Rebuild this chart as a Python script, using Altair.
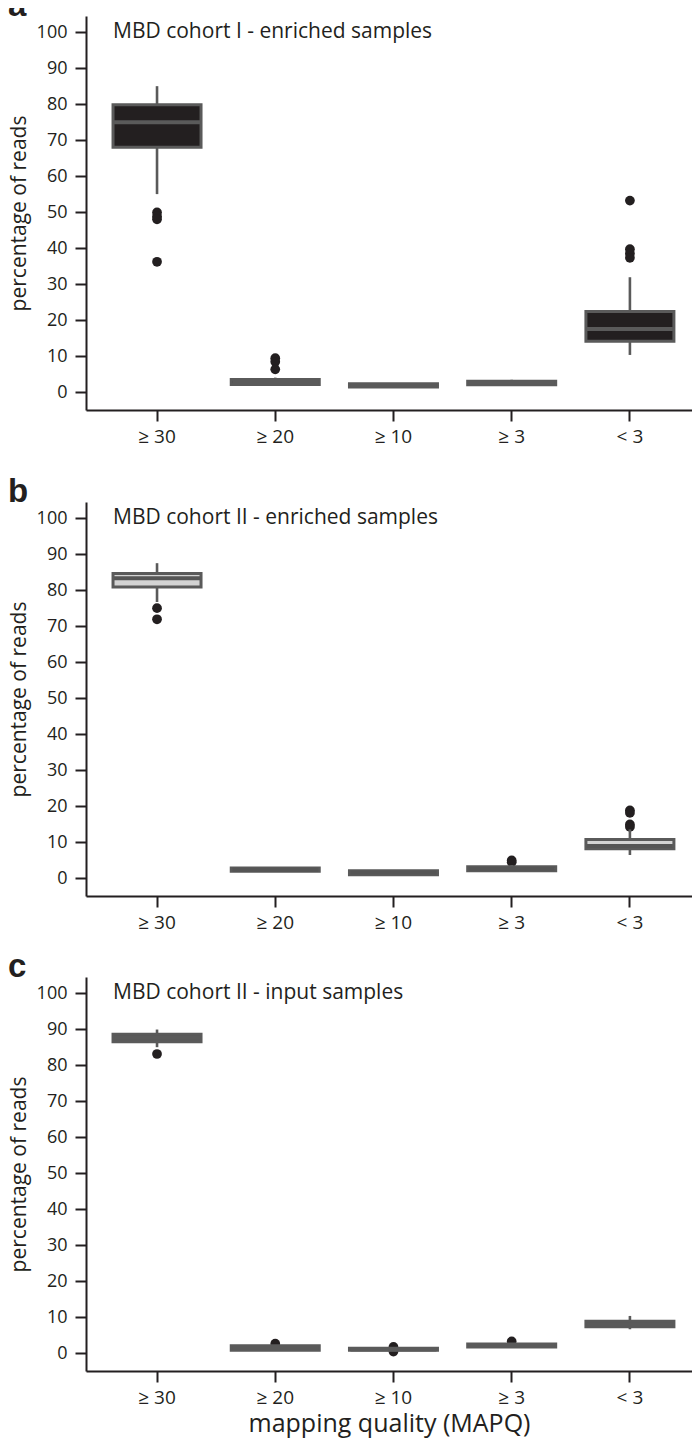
import altair as alt
import pandas as pd

CATEGORIES = ["≥ 30", "≥ 20", "≥ 10", "≥ 3", "< 3"]

# Panel a: MBD cohort I - enriched samples
A_LO = [55.0, 1.8, 1.2, 1.8, 10.3]
A_Q1 = [68.0, 2.1, 1.4, 2.0, 14.1]
A_MED = [75.0, 2.8, 1.8, 2.6, 17.5]
A_Q3 = [79.8, 3.5, 2.3, 3.0, 22.4]
A_HI = [85.0, 4.0, 2.5, 3.4, 31.9]
A_OUT_CAT = ["≥ 30", "≥ 30", "≥ 30", "≥ 30", "≥ 20", "≥ 20", "≥ 20", "< 3", "< 3", "< 3", "< 3"]
A_OUT_VAL = [49.9, 48.8, 48.0, 36.2, 9.4, 8.4, 6.3, 53.2, 39.7, 38.5, 37.3]

# Panel b: MBD cohort II - enriched samples
B_LO = [76.7, 1.8, 0.8, 1.9, 6.4]
B_Q1 = [80.9, 1.9, 0.9, 2.0, 8.1]
B_MED = [83.3, 2.3, 1.5, 2.6, 8.9]
B_Q3 = [84.6, 2.8, 2.0, 3.1, 10.7]
B_HI = [87.5, 2.9, 2.1, 3.6, 13.5]
B_OUT_CAT = ["≥ 30", "≥ 30", "≥ 3", "≥ 3", "< 3", "< 3", "< 3", "< 3"]
B_OUT_VAL = [75.0, 71.9, 4.9, 4.4, 18.8, 18.1, 14.9, 14.2]

# Panel c: MBD cohort II - input samples
C_LO = [85.0, 0.8, 0.6, 1.6, 6.6]
C_Q1 = [86.5, 0.8, 0.8, 1.7, 7.3]
C_MED = [87.6, 1.4, 1.0, 2.1, 8.0]
C_Q3 = [88.6, 2.0, 1.3, 2.5, 8.8]
C_HI = [89.9, 2.1, 1.4, 2.6, 10.3]
C_OUT_CAT = ["≥ 30", "≥ 20", "≥ 10", "≥ 10", "≥ 3"]
C_OUT_VAL = [83.1, 2.6, 1.7, 0.4, 3.2]

Y_TICKS = list(range(0, 101, 10))

FONT = "Open Sans"
INK = "#231f20"
GREY = "#5a5a5a"
W, H = 606, 394


def panel(letter, label, lo, q1, med, q3, hi, out_cat, out_val,
          fill, median_color, xtitle=None):
    box = pd.DataFrame({"cat": CATEGORIES, "lo": lo, "q1": q1, "med": med,
                        "q3": q3, "hi": hi})
    out = pd.DataFrame({"cat": out_cat, "val": out_val})
    xscale = alt.Scale(domain=CATEGORIES, paddingInner=0, paddingOuter=0.063, align=0.8)
    yscale = alt.Scale(domain=[-5, 104.5], nice=False, zero=False)
    xkw = dict(labelAngle=0, labelFontSize=19, labelPadding=6)
    if xtitle:
        xaxis = alt.Axis(title=xtitle, titleFontSize=25, titlePadding=4, **xkw)
    else:
        xaxis = alt.Axis(title=None, **xkw)
    yaxis = alt.Axis(values=Y_TICKS, title="percentage of reads", labelOverlap=False,
                     labelFontSize=18, titleFontSize=21, titlePadding=7)
    base = alt.Chart(box)
    x = alt.X("cat:N", scale=xscale, axis=xaxis, sort=CATEGORIES)
    outliers = alt.Chart(out).mark_circle(size=95, color=INK, opacity=1).encode(
        x=alt.X("cat:N", scale=xscale, axis=xaxis, sort=CATEGORIES),
        y=alt.Y("val:Q", scale=yscale, axis=yaxis),
    )
    whisk = base.mark_rule(color=GREY, strokeWidth=2.6).encode(
        x=x, y=alt.Y("lo:Q", scale=yscale, axis=yaxis), y2="hi:Q")
    bx = base.mark_bar(size=88, fill=fill, stroke=GREY, strokeWidth=3).encode(
        x=x, y=alt.Y("q1:Q", scale=yscale, axis=yaxis), y2="q3:Q")
    md = base.mark_tick(size=86, thickness=4, color=median_color, opacity=1).encode(
        x=x, y=alt.Y("med:Q", scale=yscale, axis=yaxis))
    title = alt.Chart(pd.DataFrame({"t": [label]})).mark_text(
        align="left", baseline="middle", font=FONT, fontSize=21, color=INK, dx=-44
    ).encode(
        x=alt.datum("≥ 30", type="nominal", scale=xscale, axis=xaxis),
        y=alt.datum(100, type="quantitative", scale=yscale, axis=yaxis),
        text="t:N",
    )
    let = alt.Chart(pd.DataFrame({"t": [letter]})).mark_text(
        align="left", baseline="alphabetic", font="Liberation Sans",
        fontWeight="bold", fontSize=33, color=INK
    ).encode(x=alt.value(-78), y=alt.value(0), text="t:N")
    return alt.layer(outliers, whisk, bx, md, title, let).properties(width=W, height=H)


pa = panel("a", "MBD cohort I - enriched samples", A_LO, A_Q1, A_MED, A_Q3, A_HI,
           A_OUT_CAT, A_OUT_VAL, INK, GREY)
pb = panel("b", "MBD cohort II - enriched samples", B_LO, B_Q1, B_MED, B_Q3, B_HI,
           B_OUT_CAT, B_OUT_VAL, "#d3d3d3", "#555555")
pc = panel("c", "MBD cohort II - input samples", C_LO, C_Q1, C_MED, C_Q3, C_HI,
           C_OUT_CAT, C_OUT_VAL, GREY, GREY, xtitle="mapping quality (MAPQ)")

chart = alt.vconcat(
    pa,
    alt.vconcat(pb, pc, spacing=19),
    spacing=30,
).properties(
    padding={"top": -18, "left": 0, "right": 0, "bottom": 2}
).configure_view(stroke=None).configure_axis(
    grid=False,
    domainColor=INK, domainWidth=2,
    tickColor=INK, tickWidth=2, tickSize=11,
    labelFont=FONT, labelColor=INK, labelPadding=8,
    titleFont=FONT, titleFontWeight="normal", titleColor=INK,
)

chart.save("out.html", embed_options={"renderer": "svg", "actions": False})
